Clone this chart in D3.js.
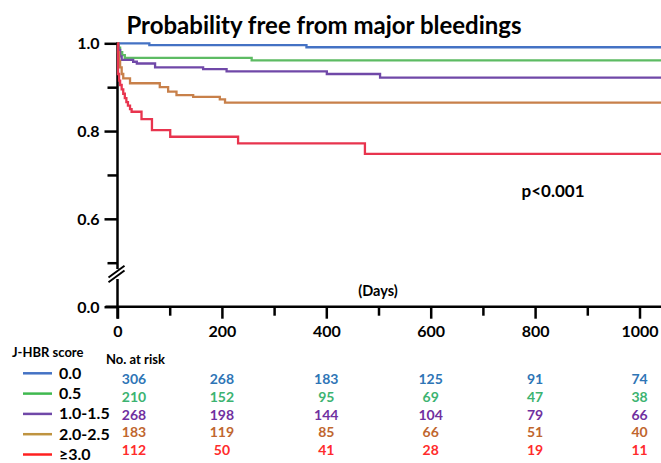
<!DOCTYPE html>
<html>
<head>
<meta charset="utf-8">
<script src="https://cdn.jsdelivr.net/npm/d3@7"></script>
<style>
    body { margin: 0; background: #fff; }
    svg { display: block; font-family: Lato, "Open Sans", sans-serif; font-weight: bold; }
    .axis line, .axis path { stroke: #000; stroke-width: 2.5; }
    .axis text { font-size: 16px; font-weight: bold; fill: #000; font-family: Lato, sans-serif; }
</style>
</head>
<body>
<svg id="chart" width="661" height="463"></svg>
<script>
// groups and their colours
const groups = ['0.0', '0.5', '1.0-1.5', '2.0-2.5', '\u22653.0'];
const lineColors = ['#4472C4', '#5DBB63', '#7048A8', '#C8804A', '#E8344E'];
const legendColors = ['#4472C4', '#3FB94F', '#7048A8', '#BF9440', '#FF2020'];
const textColors = ['#2E75B6', '#3CB371', '#7030A0', '#C0662E', '#FF2B2B'];

// Kaplan-Meier steps: [day, survival]
const km00 = [[0, 1.0], [61, 0.996], [362, 0.991]];
const km05 = [[0, 1.0], [2, 0.99], [5, 0.98], [9, 0.973], [14, 0.967], [257, 0.961]];
const km10 = [[0, 1.0], [2, 0.985], [5, 0.97], [8, 0.962], [30, 0.958], [37, 0.954],
              [72, 0.945], [164, 0.941], [209, 0.936], [401, 0.930], [503, 0.922]];
const km20 = [[0, 1.0], [1, 0.98], [3, 0.96], [5, 0.945], [8, 0.93], [11, 0.92],
              [24, 0.909], [81, 0.9], [97, 0.89], [113, 0.882], [145, 0.878],
              [196, 0.872], [206, 0.865]];
const km30 = [[0, 1.0], [1, 0.93], [3, 0.915], [5, 0.905], [8, 0.895], [11, 0.885],
              [14, 0.875], [17, 0.866], [20, 0.858], [24, 0.85], [27, 0.844],
              [46, 0.827], [66, 0.802], [101, 0.787], [231, 0.772], [474, 0.748]];
const curves = [km00, km05, km10, km20, km30];

// number at risk
const riskDays = [0, 200, 400, 600, 800, 1000];
const atRisk = [
    [306, 268, 183, 125, 91, 74],
    [210, 152, 95, 69, 47, 38],
    [268, 198, 144, 104, 79, 66],
    [183, 119, 85, 66, 51, 40],
    [112, 50, 41, 28, 19, 11]
];

const xTicks = [0, 100, 200, 300, 400, 500, 600, 700, 800, 900, 1000];
const yTicks = [0, 0.5, 0.6, 0.7, 0.8, 0.9, 1.0];
const yLabels = {0: '0.0', 0.6: '0.6', 0.8: '0.8', 1: '1.0'};
const END_DAY = 1042;

let svg = d3.select('#chart');

let x = d3.scaleLinear().domain([0, 1000]).range([117.5, 639.5]);
// broken y axis: 0.0 sits under the break, 0.5..1.0 linear above it
let y = d3.scaleLinear().domain([0, 0.5, 1.0]).range([306.7, 262.7, 43.3]);

// title
svg.append('text')
    .attr('x', 324).attr('y', 34)
    .attr('text-anchor', 'middle')
    .style('font-size', '24px')
    .text('Probability free from major bleedings');

// x axis
let xAxis = svg.append('g')
    .attr('class', 'axis')
    .attr('transform', 'translate(0,' + y(0) + ')')
    .call(d3.axisBottom(x).tickValues(xTicks)
        .tickSize(9).tickPadding(6)
        .tickFormat(function (d) { return d % 200 === 0 ? d : ''; }));
xAxis.select('.domain').remove();
xAxis.selectAll('.tick line').attr('y2', function (d) { return d % 200 === 0 ? 12 : 9; });
xAxis.selectAll('.tick text').attr('y', 19);
xAxis.append('line')
    .attr('x1', x(0) - 12).attr('x2', 661)
    .attr('y1', 0).attr('y2', 0);

// y axis
let yAxis = svg.append('g')
    .attr('class', 'axis')
    .attr('transform', 'translate(' + x(0) + ',0)')
    .call(d3.axisLeft(y).tickValues(yTicks)
        .tickSize(13).tickPadding(5)
        .tickFormat(function (d) { return yLabels[d] || ''; }));
yAxis.select('.domain').remove();
yAxis.selectAll('.tick line').attr('x2', function (d) { return yLabels[d] ? -13 : -10; });
yAxis.selectAll('.tick text').attr('dy', '0.35em');
yAxis.append('line').attr('x1', 0).attr('x2', 0).attr('y1', y(1) - 1).attr('y2', 269);
yAxis.append('line').attr('x1', 0).attr('x2', 0).attr('y1', 279).attr('y2', y(0) + 12);

// break marks
[0, 4.7].forEach(function (off) {
    yAxis.append('line')
        .attr('x1', -9).attr('y1', 277.5 + off)
        .attr('x2', 7).attr('y2', 265.8 + off)
        .style('stroke-width', 2);
});

// curves
let line = d3.line()
    .x(function (d) { return x(d[0]); })
    .y(function (d) { return y(d[1]); })
    .curve(d3.curveStepAfter);

svg.append('g').selectAll('path')
    .data(curves)
    .enter().append('path')
    .attr('d', function (d) {
        return line(d.concat([[END_DAY, d[d.length - 1][1]]]));
    })
    .attr('fill', 'none')
    .attr('stroke-width', 2.3)
    .attr('stroke', function (d, i) { return lineColors[i]; });

svg.append('text')
    .attr('x', 378).attr('y', 296)
    .attr('text-anchor', 'middle')
    .style('font-size', '14.5px')
    .text('(Days)');

svg.append('text')
    .attr('x', 553).attr('y', 197)
    .attr('text-anchor', 'middle')
    .style('font-size', '17px')
    .text('p<0.001');

// legend
svg.append('text')
    .attr('x', 12).attr('y', 357)
    .style('font-size', '13px')
    .text('J-HBR score');

let legend = svg.append('g').selectAll('g')
    .data(groups)
    .enter().append('g')
    .attr('transform', function (d, i) { return 'translate(0,' + (373.3 + i * 20.3) + ')'; });
legend.append('line')
    .attr('x1', 23).attr('x2', 52)
    .attr('stroke-width', 2.5)
    .attr('stroke', function (d, i) { return legendColors[i]; });
legend.append('text')
    .attr('x', 59).attr('y', 5.5)
    .style('font-size', '16px')
    .text(function (d) { return d; });

// numbers at risk
svg.append('text')
    .attr('x', 106).attr('y', 364)
    .style('font-size', '13px')
    .text('No. at risk');

atRisk.forEach(function (row, i) {
    svg.append('g').selectAll('text')
        .data(row)
        .enter().append('text')
        .attr('x', function (d, j) { return Math.max(x(riskDays[j]), x(0) + 16.5); })
        .attr('y', 384 + i * 17.8)
        .attr('text-anchor', 'middle')
        .style('font-size', '14px')
        .attr('fill', textColors[i])
        .text(function (d) { return d; });
});
</script>
</body>
</html>
